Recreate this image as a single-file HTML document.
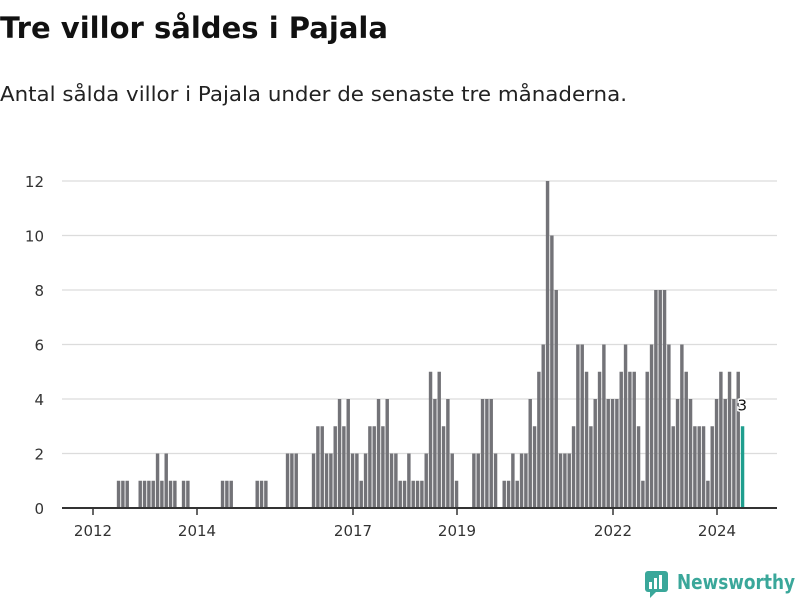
<!DOCTYPE html>
<html><head><meta charset="utf-8"><style>
body{margin:0;background:#fff;width:800px;height:600px;overflow:hidden;font-family:"DejaVu Sans","Liberation Sans",sans-serif;}
svg{position:absolute;left:0;top:0}
</style></head><body>
<svg width="800" height="600">
<text x="0" y="38" font-size="29" font-weight="bold" fill="#111" textLength="388" lengthAdjust="spacingAndGlyphs">Tre villor såldes i Pajala</text>
<text x="0" y="101" font-size="20" fill="#222" textLength="627" lengthAdjust="spacingAndGlyphs">Antal sålda villor i Pajala under de senaste tre månaderna.</text>
<g id="grid"></g>
<g id="bars"></g>
<g id="axis"></g>
<g>
<rect x="645" y="571" width="23" height="21" rx="3" fill="#3aa79a"/>
<rect x="649" y="582" width="3" height="7" fill="#fff"/><rect x="654" y="578" width="3" height="11" fill="#fff"/><rect x="659" y="575" width="3" height="14" fill="#fff"/>
<polygon points="650,592 656,592 650,598" fill="#3aa79a"/>
<text x="677" y="589" font-size="20" font-weight="bold" fill="#3aa79a" textLength="118" lengthAdjust="spacingAndGlyphs">Newsworthy</text>
</g>
</svg>
<script>
const startYear = 2012;
const yTicks = [0,2,4,6,8,10,12];
const xTickYears = [2012,2014,2017,2019,2022,2024];
const months = Array.from({length:150},(_, i)=>i); // month index since Jan 2012
const counts = [0,0,0,0,0,1,1,1,0,0,
1,1,1,1,2,1,2,1,1,0,
1,1,0,0,0,0,0,0,0,1,
1,1,0,0,0,0,0,1,1,1,
0,0,0,0,2,2,2,0,0,0,
2,3,3,2,2,3,4,3,4,2,
2,1,2,3,3,4,3,4,2,2,
1,1,2,1,1,1,2,5,4,5,
3,4,2,1,0,0,0,2,2,4,
4,4,2,0,1,1,2,1,2,2,
4,3,5,6,12,10,8,2,2,2,
3,6,6,5,3,4,5,6,4,4,
4,5,6,5,5,3,1,5,6,8,
8,8,6,3,4,6,5,4,3,3,
3,1,3,4,5,4,5,4,5,3];
const NS="http://www.w3.org/2000/svg";
const x0=93, pxYear=52, pxMonth=52/12, y0=508, pxUnit=27.25;
const xScale = m => x0 + (m+0.5)*pxMonth;
const yScale = v => y0 - v*pxUnit;
function mk(tag,attrs,parent){const e=document.createElementNS(NS,tag);for(const k in attrs)e.setAttribute(k,attrs[k]);parent.appendChild(e);return e;}
const grid=document.getElementById('grid');
yTicks.forEach(v=>{
  if(v>0){const l=mk('line',{x1:62,x2:777,y1:yScale(v),y2:yScale(v),stroke:'#dcdcdc','stroke-width':1.3},grid);
  
  }
  const t=mk('text',{x:44,y:yScale(v)+6,'text-anchor':'end','font-size':15,fill:'#333'},grid);
  t.textContent=v;
  
  
});
const bars=document.getElementById('bars');
months.forEach((m,i)=>{
  const v=counts[i]; if(!v)return;
  const last=i===counts.length-1;
  const r=mk('rect',{x:xScale(m),y:yScale(v),width:pxMonth-0.9,height:v*pxUnit,fill:last?'#1f9e8e':'#737378'},bars);
  
  
  if(last){const t=mk('text',{x:xScale(m)+1.5,y:yScale(v)-16,'text-anchor':'middle','font-size':15,fill:'#111',stroke:'#fff','stroke-width':3,'paint-order':'stroke'},bars);
  t.textContent=v;
  
  }
});
const ax=document.getElementById('axis');
mk('line',{x1:62,x2:777,y1:y0,y2:y0,stroke:'#333','stroke-width':2},ax);
xTickYears.forEach(yr=>{
  const x=x0+(yr-startYear)*pxYear;
  mk('line',{x1:x,x2:x,y1:y0,y2:y0+7,stroke:'#333','stroke-width':1.5},ax);
  const t=mk('text',{x:x,y:536,'text-anchor':'middle','font-size':15,fill:'#333'},ax);
  t.textContent=yr;
  
  
});
</script>
</body></html>
